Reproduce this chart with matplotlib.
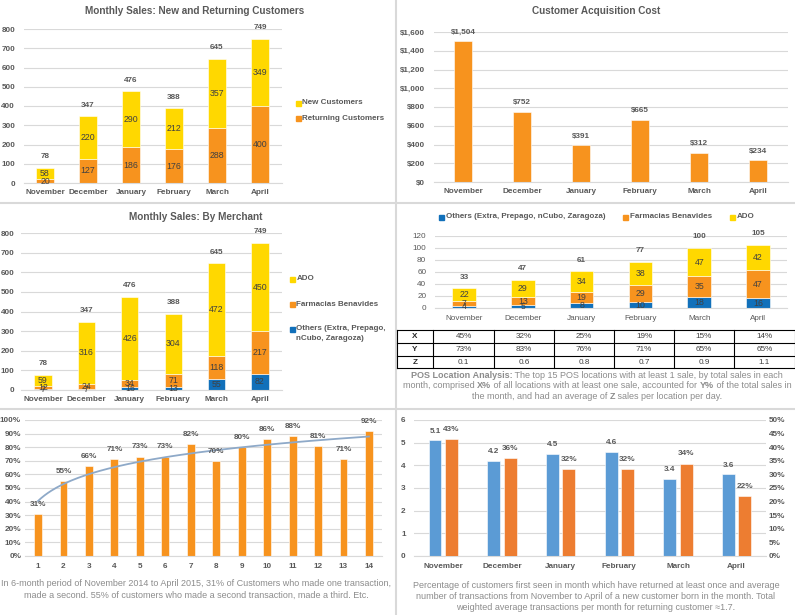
import numpy as np
import matplotlib
matplotlib.use('Agg')
import matplotlib.pyplot as plt
from matplotlib.patches import Rectangle

plt.rcParams['font.family'] = ['Liberation Sans', 'DejaVu Sans']

# ---------------- data ----------------
months = ['November', 'December', 'January', 'February', 'March', 'April']
new_customers = [58, 220, 290, 212, 357, 349]
returning_customers = [20, 127, 186, 176, 288, 400]

acq_cost = [1504, 752, 391, 665, 312, 234]

sales_others = [7, 7, 16, 13, 55, 82]
sales_farmacias = [12, 24, 34, 71, 118, 217]
sales_ado = [59, 316, 426, 304, 472, 450]

pos_others = [4, 5, 8, 10, 18, 16]
pos_farmacias = [7, 13, 19, 29, 35, 47]
pos_ado = [22, 29, 34, 38, 47, 42]
table_rows = ['X', 'Y', 'Z']
table_x = ['45%', '32%', '25%', '19%', '15%', '14%']
table_y = ['73%', '83%', '76%', '71%', '65%', '65%']
table_z = ['0.1', '0.6', '0.8', '0.7', '0.9', '1.1']

txn_number = list(range(1, 15))
repeat_pct = [31, 55, 66, 71, 73, 73, 82, 70, 80, 86, 88, 81, 71, 92]

avg_txn = [5.1, 4.2, 4.5, 4.6, 3.4, 3.6]
returned_pct = [43, 36, 32, 32, 34, 22]

# ---------------- style ----------------
ORANGE = '#F7931E'
YELLOW = '#FFD800'
BLUE = '#1170BA'
LBLUE = '#5B9BD5'
ORANGE2 = '#ED7D31'
GRID = '#D9D9D9'
TXT = '#595959'
INNER = '#404040'
CAP = '#8C8C8C'
TS = 5.9
IS = 6.3
LS = 5.8
TITLE = 7.2
CS = 6.5

W, H = 795, 615
fig = plt.figure(figsize=(W / 100, H / 100), dpi=100)
renderer = fig.canvas.get_renderer()


def ax_px(l, t, r, b):
    return fig.add_axes([l / W, 1 - b / H, (r - l) / W, (b - t) / H])


def style(ax, xpad=4, ypad=6, bold=True):
    for s in ['top', 'right', 'left']:
        ax.spines[s].set_visible(False)
    ax.spines['bottom'].set_color(GRID)
    ax.yaxis.grid(True, color=GRID, lw=0.8)
    ax.set_axisbelow(True)
    ax.tick_params(length=0, labelsize=TS, colors=TXT)
    ax.tick_params(axis='x', pad=xpad)
    ax.tick_params(axis='y', pad=ypad)
    for lab in ax.get_xticklabels() + ax.get_yticklabels():
        lab.set_fontweight('bold' if bold else 'normal')


# overlay axes in pixel coordinates
ov = fig.add_axes([0, 0, 1, 1], zorder=-1)
ov.set_xlim(0, W)
ov.set_ylim(H, 0)
ov.axis('off')
ov2 = fig.add_axes([0, 0, 1, 1], zorder=10)
ov2.set_xlim(0, W)
ov2.set_ylim(H, 0)
ov2.axis('off')
ov2.patch.set_alpha(0)

# panel borders
ov.plot([396, 396], [0, H], color=GRID, lw=1.5)
ov.plot([0, W], [203, 203], color=GRID, lw=1.5)
ov.plot([0, W], [409, 409], color=GRID, lw=1.5)


def legend_item(x, y, color, text, size=LS):
    ov2.add_patch(Rectangle((x - 2.5, y - 2.5), 5, 5, color=color))
    ov2.text(x + 4.5, y, text, fontsize=size, color=TXT, fontweight='bold',
             va='center', ha='left')


def rich_line(xc, y, segments, size, color):
    # segments: list of (text, bold) drawn side by side, centred on xc (pixels)
    texts = []
    widths = []
    for s, b in segments:
        t = ov2.text(0, y, s.replace(' ', '\u00a0'), fontsize=size, color=color,
                     fontweight='bold' if b else 'normal', va='center', ha='left')
        widths.append(t.get_window_extent(renderer).width)
        texts.append(t)
    total = sum(widths)
    xpos = xc - total / 2
    for t, w in zip(texts, widths):
        t.set_x(xpos)
        xpos += w


x = np.arange(len(months))

# ---------------- Panel 1 ----------------
ax1 = ax_px(23.5, 29, 281.5, 183)
ax1.bar(x, returning_customers, 0.4, color=ORANGE, edgecolor='white', lw=0.4)
ax1.bar(x, new_customers, 0.4, bottom=returning_customers, color=YELLOW,
        edgecolor='white', lw=0.4)
ax1.set_xlim(-0.5, 5.5)
ax1.set_ylim(0, 800)
ax1.set_yticks(range(0, 801, 100))
ax1.set_xticks(x, months)
style(ax1, xpad=4, ypad=6)
for i in x:
    r, n = returning_customers[i], new_customers[i]
    ax1.text(i, r / 2, str(r), ha='center', va='center', fontsize=IS, color=INNER)
    ax1.text(i, r + n / 2, str(n), ha='center', va='center', fontsize=IS, color=INNER)
    ax1.annotate(str(r + n), (i, r + n), xytext=(0, 8), textcoords='offset points',
                 ha='center', va='center', fontsize=TS, color=TXT, fontweight='bold')
ov2.text(195, 11, 'Monthly Sales: New and Returning Customers', ha='center', va='center',
         fontsize=TITLE, color=TXT, fontweight='bold')
legend_item(298, 103, YELLOW, 'New Customers')
legend_item(298, 118, ORANGE, 'Returning Customers')

# ---------------- Panel 2 ----------------
ax2 = ax_px(433.5, 32, 787.5, 182)
ax2.bar(x, acq_cost, 0.32, color=ORANGE, edgecolor='white', lw=0.4)
ax2.set_xlim(-0.5, 5.5)
ax2.set_ylim(0, 1600)
ax2.set_yticks(range(0, 1601, 200))
ax2.set_yticklabels(['${:,}'.format(v) for v in range(0, 1601, 200)])
ax2.set_xticks(x, months)
style(ax2, xpad=4, ypad=6)
for i in x:
    ax2.annotate('${:,}'.format(acq_cost[i]), (i, acq_cost[i]), xytext=(0, 6.5),
                 textcoords='offset points', ha='center', va='center', fontsize=TS,
                 color=TXT, fontweight='bold')
ov2.text(596, 11, 'Customer Acquisition Cost', ha='center', va='center',
         fontsize=TITLE, color=TXT, fontweight='bold')

# ---------------- Panel 3 ----------------
ax3 = ax_px(21.3, 233, 281.7, 390)
b1 = np.array(sales_others)
b2 = b1 + np.array(sales_farmacias)
ax3.bar(x, sales_others, 0.4, color=BLUE, edgecolor='white', lw=0.4)
ax3.bar(x, sales_farmacias, 0.4, bottom=b1, color=ORANGE, edgecolor='white', lw=0.4)
ax3.bar(x, sales_ado, 0.4, bottom=b2, color=YELLOW, edgecolor='white', lw=0.4)
ax3.set_xlim(-0.5, 5.5)
ax3.set_ylim(0, 800)
ax3.set_yticks(range(0, 801, 100))
ax3.set_xticks(x, months)
style(ax3, xpad=4, ypad=5)
for i in x:
    o, f, a = sales_others[i], sales_farmacias[i], sales_ado[i]
    ax3.text(i, o / 2, str(o), ha='center', va='center', fontsize=IS, color=INNER)
    ax3.text(i, o + f / 2, str(f), ha='center', va='center', fontsize=IS, color=INNER)
    ax3.text(i, o + f + a / 2, str(a), ha='center', va='center', fontsize=IS, color=INNER)
    ax3.annotate(str(o + f + a), (i, o + f + a), xytext=(0, 8), textcoords='offset points',
                 ha='center', va='center', fontsize=TS, color=TXT, fontweight='bold')
ov2.text(196, 217, 'Monthly Sales: By Merchant', ha='center', va='center',
         fontsize=TITLE, color=TXT, fontweight='bold')
legend_item(292, 279, YELLOW, 'ADO')
legend_item(292, 304, ORANGE, 'Farmacias Benavides')
legend_item(292, 329, BLUE, 'Others (Extra, Prepago,')
ov2.text(296.5, 339, 'nCubo, Zaragoza)', fontsize=LS, color=TXT, fontweight='bold',
         va='center', ha='left')

# ---------------- Panel 4 ----------------
ax4 = ax_px(434.6, 236, 787.4, 308)
p1 = np.array(pos_others)
p2 = p1 + np.array(pos_farmacias)
ax4.bar(x, pos_others, 0.4, color=BLUE, edgecolor='white', lw=0.4)
ax4.bar(x, pos_farmacias, 0.4, bottom=p1, color=ORANGE, edgecolor='white', lw=0.4)
ax4.bar(x, pos_ado, 0.4, bottom=p2, color=YELLOW, edgecolor='white', lw=0.4)
ax4.set_xlim(-0.5, 5.5)
ax4.set_ylim(0, 120)
ax4.set_yticks(range(0, 121, 20))
ax4.set_xticks(x, months)
style(ax4, xpad=5, ypad=6, bold=False)
for i in x:
    o, f, a = pos_others[i], pos_farmacias[i], pos_ado[i]
    ax4.text(i, o / 2, str(o), ha='center', va='center', fontsize=IS, color=INNER)
    ax4.text(i, o + f / 2, str(f), ha='center', va='center', fontsize=IS, color=INNER)
    ax4.text(i, o + f + a / 2, str(a), ha='center', va='center', fontsize=IS, color=INNER)
    ax4.annotate(str(o + f + a), (i, o + f + a), xytext=(0, 8), textcoords='offset points',
                 ha='center', va='center', fontsize=TS, color=TXT, fontweight='bold')
legend_item(441, 217, BLUE, 'Others (Extra, Prepago, nCubo, Zaragoza)')
legend_item(625, 217, ORANGE, 'Farmacias Benavides')
legend_item(732, 217, YELLOW, 'ADO')

# table
col_edges = [397, 433, 494, 554, 614, 674, 734, 795]
row_edges = [330, 343, 356, 368]
for yv in row_edges:
    ov2.plot([col_edges[0], col_edges[-1]], [yv, yv], color='black', lw=0.8)
for xv in col_edges:
    ov2.plot([xv, xv], [row_edges[0], row_edges[-1]], color='black', lw=0.8)
rows_vals = [table_x, table_y, table_z]
for r in range(3):
    yc = (row_edges[r] + row_edges[r + 1]) / 2
    ov2.text((col_edges[0] + col_edges[1]) / 2, yc, table_rows[r], ha='center', va='center',
             fontsize=5.9, color='#262626', fontweight='bold')
    for c in range(6):
        ov2.text((col_edges[c + 1] + col_edges[c + 2]) / 2, yc, rows_vals[r][c],
                 ha='center', va='center', fontsize=5.9, color='#404040')

cap4 = [
    [('POS Location Analysis:', True),
     (' The top 15 POS locations with at least 1 sale, by total sales in each', False)],
    [('month, comprised ', False), ('X%', True),
     (' of all locations with at least one sale, accounted for ', False), ('Y%', True),
     (' of the total sales in', False)],
    [('the month, and had an average of ', False), ('Z', True),
     (' sales per location per day.', False)],
]
for k, segs in enumerate(cap4):
    rich_line(597, 375 + 10.8 * k, segs, CS, CAP)

# ---------------- Panel 5 ----------------
ax5 = ax_px(25.3, 420, 381.7, 556)
xr = np.array(txn_number)
yr = np.array(repeat_pct) / 100
ax5.bar(xr, yr, 0.31, color=ORANGE, edgecolor='white', lw=0.4)
coef = np.polyfit(np.log(xr), yr, 1)
xt = np.linspace(xr.min(), xr.max(), 200)
ax5.plot(xt, coef[0] * np.log(xt) + coef[1], color='#8EA9C8', lw=1.3)
ax5.set_xlim(0.5, 14.5)
ax5.set_ylim(0, 1.0)
ax5.set_yticks(np.arange(0, 1.01, 0.1))
ax5.set_yticklabels(['{}%'.format(v) for v in range(0, 101, 10)])
ax5.set_xticks(xr, [str(v) for v in txn_number])
style(ax5, xpad=5, ypad=3)
for xi, v in zip(xr, repeat_pct):
    ax5.annotate('{}%'.format(v), (xi, v / 100), xytext=(0, 7), textcoords='offset points',
                 ha='center', va='center', fontsize=TS, color=TXT, fontweight='bold')
cap5 = ['In 6-month period of November 2014 to April 2015, 31% of Customers who made one transaction,',
        'made a second. 55% of customers who made a second transaction, made a third. Etc.']
for k, line in enumerate(cap5):
    ov2.text(196, 584 + 11 * k, line, ha='center', va='center', fontsize=CS, color=CAP)

# ---------------- Panel 6 ----------------
ax6 = ax_px(413.9, 420, 766, 556)
bw = 0.22
ax6.bar(x - 0.14, avg_txn, bw, color=LBLUE, edgecolor='white', lw=0.4)
ax6.set_xlim(-0.5, 5.5)
ax6.set_ylim(0, 6)
ax6.set_yticks(range(0, 7))
ax6.set_xticks(x, months)
ax6b = ax6.twinx()
ax6b.bar(x + 0.14, np.array(returned_pct) / 100, bw, color=ORANGE2, edgecolor='white', lw=0.4)
ax6b.set_ylim(0, 0.5)
ax6b.set_yticks(np.arange(0, 0.51, 0.05))
ax6b.set_yticklabels(['{}%'.format(v) for v in range(0, 51, 5)])
style(ax6, xpad=5, ypad=6)
for s in ax6b.spines.values():
    s.set_visible(False)
ax6b.tick_params(length=0, labelsize=TS, colors=TXT, pad=2)
for lab in ax6b.get_yticklabels():
    lab.set_fontweight('bold')
for i in x:
    ax6.annotate('{}'.format(avg_txn[i]), (i - 0.14, avg_txn[i]), xytext=(0, 6.5),
                 textcoords='offset points', ha='center', va='center', fontsize=TS,
                 color=TXT, fontweight='bold')
    ax6b.annotate('{}%'.format(returned_pct[i]), (i + 0.14, returned_pct[i] / 100),
                  xytext=(0, 7), textcoords='offset points', ha='center', va='center',
                  fontsize=TS, color=TXT, fontweight='bold')
cap6 = ['Percentage of customers first seen in month which have returned at least once and average',
        'number of transactions from November to April of a new customer born in the month. Total',
        'weighted average transactions per month for returning customer \u22481.7.']
for k, line in enumerate(cap6):
    ov2.text(596, 585 + 11.3 * k, line, ha='center', va='center', fontsize=CS, color=CAP)

fig.savefig('out.png', dpi=100)
